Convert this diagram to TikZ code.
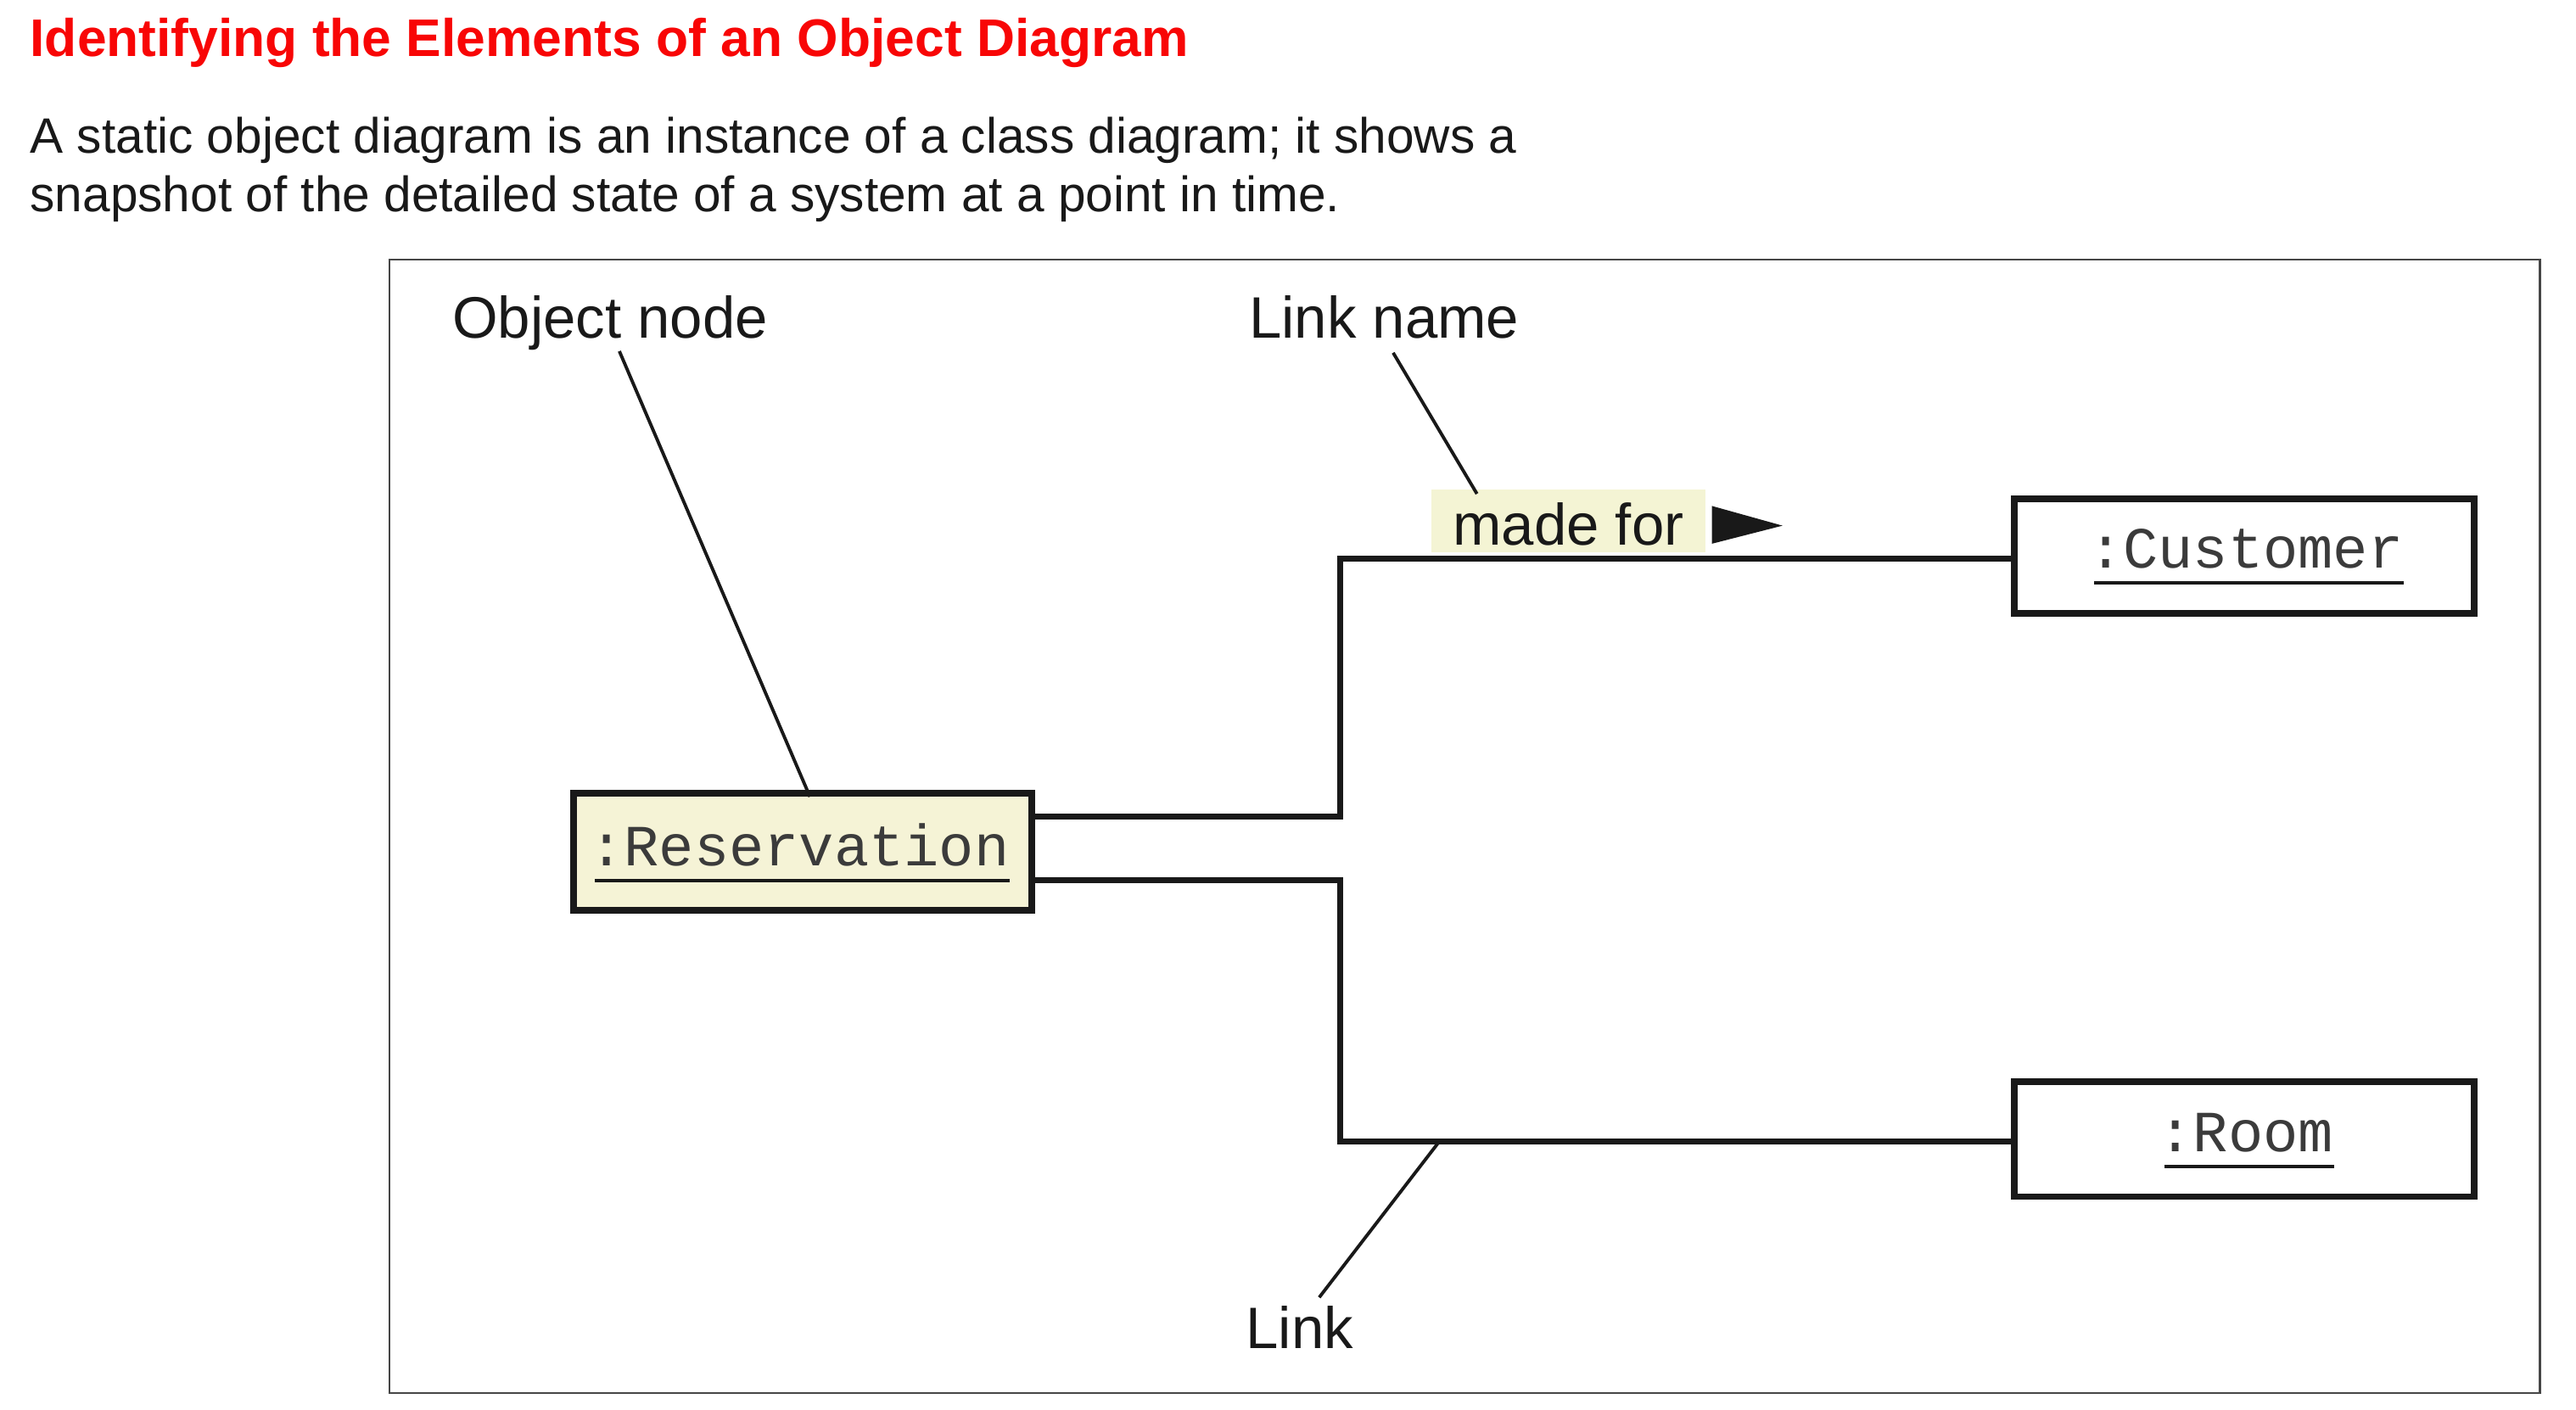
\documentclass[tikz,border=0pt]{standalone}
\usepackage{fontspec}
\setmainfont{Liberation Sans}
\setmonofont{Liberation Mono}
\definecolor{titlered}{RGB}{248,6,6}
\definecolor{objfill}{RGB}{245,243,214}
\definecolor{mffill}{RGB}{244,244,212}
\definecolor{framegray}{RGB}{70,70,70}
\definecolor{ink}{RGB}{25,25,25}
\begin{document}
\begin{tikzpicture}[x=0.5pt,y=-0.5pt,
  title/.style={anchor=base west, inner sep=0pt, text=titlered, font=\fontsize{16.1pt}{19pt}\selectfont\bfseries},
  body/.style={anchor=base west, inner sep=0pt, text=ink, font=\fontsize{15.13pt}{18pt}\selectfont},
  callout/.style={anchor=base west, inner sep=0pt, text=ink, font=\fontsize{17.8pt}{21pt}\selectfont},
  objbox/.style={draw=ink, line width=2pt, minimum width=140pt, minimum height=35pt, inner sep=0pt},
  objname/.style={anchor=base, inner sep=0pt, text=ink!85, font=\ttfamily\fontsize{17.75pt}{21pt}\selectfont},
  uline/.style={draw=ink, line width=1pt},
  conn/.style={draw=ink, line width=1.8pt},
  leader/.style={draw=ink, line width=1pt},
  frame/.style={draw=framegray, line width=0.7pt}]
\useasboundingbox[fill=white] (0,0) rectangle (1568,858);

% heading
\node[title] (ttl) at (18,34.5) {Identifying the Elements of an Object Diagram};
\node[body] (b1) at (18,93) {A static object diagram is an instance of a class diagram; it shows a};
\node[body] (b2) at (18,129) {snapshot of the detailed state of a system at a point in time.};

% frame
\draw[frame] (237,158) rectangle (1546,848);

% object boxes
\node[objbox, fill=objfill, minimum width=139.5pt, minimum height=35.5pt] (res) at (488.5,518.5) {};
\node[objbox, fill=white] (cust) at (1366,338.5) {};
\node[objbox, fill=white] (room) at (1366,693.5) {};

\node[objname] (resT) at (486.5,527) {:Reservation};
\node[objname] (custT) at (1367,346) {:Customer};
\node[objname] (roomT) at (1367,701) {:Room};
\draw[uline] ([shift={(2pt,-4.5pt)}]resT.base west) -- ([yshift=-4.5pt]resT.base east);
\draw[uline] ([shift={(2pt,-4.5pt)}]custT.base west) -- ([yshift=-4.5pt]custT.base east);
\draw[uline] ([shift={(2pt,-4.5pt)}]roomT.base west) -- ([yshift=-4.5pt]roomT.base east);

% links
\coordinate (bendA) at (816,497);
\coordinate (bendB) at (816,536);
\coordinate (topA) at (816,340);
\coordinate (botB) at (816,695);
\coordinate (linkpt) at (876,695);
\draw[conn] (res.east |- bendA) -- (bendA) -- (topA) -- (cust.west |- topA);
\draw[conn] (res.east |- bendB) -- (bendB) -- (botB) -- (room.west |- botB);

% link name
\node[callout, fill=mffill, inner xsep=6.5pt, inner ysep=0pt, text height=17pt, text depth=2pt] (mf) at (871,332) {made for};
\fill[ink] (1042,308) -- (1085,320) -- (1042,331) -- cycle;

% callouts
\node[callout] (objl) at (275,206) {Object node};
\node[callout] (lnkn) at (760,206) {Link name};
\node[callout] (lnk) at (758,821) {Link};
\draw[leader] ([xshift=51pt]objl.south west) -- ([xshift=2.25pt,yshift=-2pt]res.north);
\draw[leader] ([shift={(44pt,-4pt)}]lnkn.south west) -- ([shift={(14pt,-1.5pt)}]mf.north west);
\draw[leader] ([shift={(22.5pt,2.5pt)}]lnk.north west) -- (linkpt);
\end{tikzpicture}
\end{document}
